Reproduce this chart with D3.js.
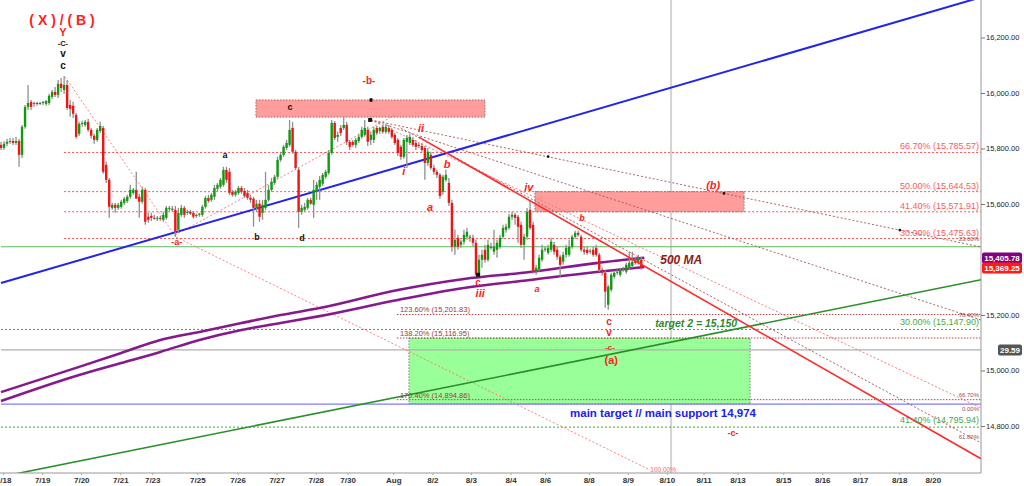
<!DOCTYPE html>
<html><head><meta charset="utf-8">
<script src="https://cdn.jsdelivr.net/npm/d3@7"></script>
<style>body{margin:0;background:#fff;} svg{display:block;font-family:Arial,"Liberation Sans",sans-serif;}</style>
</head><body><svg id="c" width="1024" height="486"></svg>
<script>
// ---------- DATA ----------
// candles: [open, high, low, close]
const candles = [
[15813,15824,15795,15802],[15802,15827,15795,15817],[15817,15835,15809,15824],[15824,15838,15817,15827],[15827,15838,15813,15820],[15820,15842,15813,15827],
[15827,15835,15734,15777],[15777,15885,15766,15878],[15878,15957,15871,15950],[15950,16029,15939,15964],[15968,15975,15939,15950],[15961,15968,15950,15964],
[15964,15968,15954,15961],[15961,15968,15957,15964],[15964,15971,15957,15968],[15961,15975,15954,15971],[15964,15997,15957,15990],[15986,16011,15979,16004],
[16004,16022,15986,15993],[15993,16047,15982,16033],[16033,16054,16004,16018],[16011,16061,15997,16029],[16029,16047,15939,15946],[15957,15975,15914,15943],
[15954,15968,15910,15925],[15921,15928,15835,15842],[15853,15896,15845,15889],[15889,15900,15878,15892],[15885,15903,15878,15896],[15896,15907,15860,15867],
[15867,15874,15835,15846],[15846,15853,15817,15831],[15831,15874,15824,15867],[15863,15896,15856,15881],[15874,15881,15709,15716],[15741,15752,15676,15687],
[15687,15694,15550,15590],[15586,15604,15579,15597],[15597,15604,15568,15586],[15586,15604,15579,15597],[15590,15615,15583,15608],[15604,15626,15597,15619],
[15611,15633,15604,15626],[15626,15669,15619,15651],[15640,15658,15633,15651],[15651,15716,15619,15619],[15626,15637,15550,15608],[15608,15662,15601,15651],
[15651,15658,15525,15536],[15554,15568,15532,15543],[15557,15568,15539,15550],[15550,15561,15543,15547],[15547,15557,15539,15550],[15550,15557,15540,15547],
[15543,15572,15536,15561],[15550,15593,15543,15586],[15583,15593,15575,15586],[15583,15593,15572,15579],[15579,15593,15482,15500],[15507,15586,15496,15568],
[15561,15597,15554,15586],[15586,15593,15550,15561],[15568,15579,15561,15572],[15572,15579,15561,15565],[15568,15575,15547,15554],[15557,15565,15550,15561],
[15561,15568,15554,15565],[15561,15597,15554,15590],[15590,15629,15583,15622],[15622,15633,15604,15611],[15615,15640,15608,15633],[15626,15669,15615,15658],
[15655,15676,15647,15669],[15662,15694,15655,15687],[15669,15734,15662,15723],[15723,15734,15676,15687],[15716,15730,15633,15640],[15644,15651,15626,15633],
[15633,15651,15626,15644],[15640,15665,15633,15658],[15658,15665,15637,15644],[15647,15658,15622,15629],[15640,15651,15615,15622],[15622,15633,15604,15615],
[15619,15626,15518,15586],[15586,15615,15572,15601],[15601,15615,15536,15554],[15568,15615,15543,15597],[15586,15716,15579,15615],[15615,15669,15608,15651],
[15651,15694,15644,15680],[15676,15705,15669,15698],[15698,15770,15691,15759],[15759,15788,15752,15777],[15777,15813,15770,15806],[15802,15831,15795,15820],
[15813,15903,15806,15867],[15874,15896,15781,15788],[15788,15795,15723,15730],[15723,15730,15514,15572],[15572,15597,15561,15586],[15579,15604,15572,15590],
[15586,15622,15579,15615],[15615,15622,15597,15601],[15597,15687,15550,15651],[15644,15680,15615,15669],[15662,15701,15615,15687],[15673,15712,15665,15705],
[15698,15723,15691,15716],[15712,15795,15705,15784],[15784,15903,15777,15892],[15892,15899,15831,15838],[15842,15860,15824,15849],[15874,15885,15845,15856],
[15874,15914,15867,15885],[15885,15896,15813,15824],[15824,15831,15795,15806],[15824,15831,15806,15813],[15813,15838,15802,15831],[15827,15853,15820,15842],
[15842,15878,15835,15867],[15849,15903,15842,15874],[15867,15878,15809,15824],[15831,15860,15813,15849],[15831,15878,15820,15867],[15874,15881,15849,15856],
[15863,15878,15853,15874],[15878,15885,15853,15860],[15860,15889,15853,15878],[15874,15885,15853,15860],[15867,15874,15835,15842],[15849,15856,15813,15820],
[15831,15838,15773,15784],[15806,15813,15759,15770],[15770,15838,15763,15831],[15824,15849,15730,15838],[15820,15853,15813,15842],[15831,15842,15806,15813],
[15820,15831,15795,15806],[15813,15820,15802,15809],[15809,15820,15788,15795],[15802,15809,15687,15748],[15748,15802,15737,15788],[15777,15788,15723,15730],
[15730,15741,15705,15716],[15716,15723,15694,15705],[15705,15712,15619,15629],[15644,15705,15633,15698],[15687,15723,15680,15705],[15676,15694,15593,15604],
[15604,15615,15428,15446],[15446,15507,15417,15471],[15478,15489,15435,15446],[15453,15471,15442,15464],[15464,15507,15453,15489],[15482,15514,15471,15500],
[15478,15489,15464,15482],[15478,15489,15449,15460],[15460,15471,15342,15345],[15345,15417,15338,15399],[15399,15435,15370,15417],[15435,15453,15388,15399],
[15399,15471,15392,15453],[15446,15460,15435,15442],[15428,15507,15417,15446],[15435,15471,15406,15460],[15446,15489,15439,15478],[15482,15525,15475,15514],
[15507,15529,15496,15518],[15514,15565,15507,15554],[15554,15572,15543,15561],[15561,15568,15525,15550],[15554,15561,15460,15518],[15525,15536,15442,15453],
[15453,15493,15399,15482],[15482,15586,15471,15572],[15579,15615,15507,15514],[15525,15536,15349,15356],[15356,15381,15345,15370],[15363,15417,15356,15406],
[15399,15453,15392,15435],[15435,15446,15428,15439],[15424,15453,15417,15442],[15435,15478,15428,15464],[15453,15464,15417,15428],[15435,15446,15399,15410],
[15410,15417,15338,15381],[15392,15428,15381,15417],[15417,15453,15406,15442],[15417,15471,15410,15446],[15446,15489,15439,15482],[15482,15504,15475,15496],
[15496,15504,15482,15489],[15482,15489,15428,15435],[15435,15446,15417,15428],[15435,15446,15417,15424],[15428,15439,15421,15432],[15435,15446,15410,15417],
[15442,15453,15410,15417],[15417,15424,15356,15363],[15363,15370,15342,15352],[15352,15360,15226,15284],[15237,15309,15219,15302],[15291,15352,15284,15345],
[15338,15360,15331,15352],[15352,15363,15345,15356],[15345,15370,15338,15363],[15363,15374,15356,15367],[15356,15388,15349,15381],[15370,15428,15363,15388],
[15377,15428,15370,15392],[15399,15410,15381,15388],[15388,15417,15381,15406],[15399,15410,15363,15369.25]
];
// 500 MA bands: [bar index, price]
const maUpper = [[0,14922],[26,15013],[40,15063],[53,15110],[66,15139],[80,15171],[93,15200],[106,15225],[132,15290],[154,15330],[176,15355],[198,15387],[214,15406]];
const maLower = [[0,14890],[26,14984],[40,15027],[53,15067],[66,15110],[80,15146],[93,15171],[106,15196],[132,15254],[154,15297],[176,15326],[198,15355],[214,15373]];
// x-axis date labels and their bar index
const dateLabels = ["7/18","7/19","7/20","7/21","7/23","7/25","7/26","7/27","7/28","7/30","Aug","8/2","8/3","8/4","8/6","8/8","8/9","8/10","8/11","8/13","8/15","8/16","8/17","8/18","8/20"];
const dateIndex  = [0.7,13.7,26.7,39.7,50.3,65.3,78.7,91.7,104.7,115.3,130.5,143.5,156.3,169.5,181,195.5,208.5,221.5,233.7,245,260.2,273.2,285.8,298.8,310];
const yTicks = [14800,15000,15200,15600,15800,16000,16200];
// Trend lines: [[i1,p1],[i2,p2]]
const blueTrend  = [[0,15315],[326,16345]];
const greenTrend = [[0,14617],[326,15327]];
const redTrend   = [[139,15841],[326,14682]];
const fanLines = [
  [[123,15903],[326,15445]],
  [[123,15903],[326,15182]],
  [[123,15903],[326,14865]],
  [[133,15874],[326,14739]]
];
const lightRedLines = [
  [[21.3,16058],[58.2,15481]],
  [[58.2,15481],[216,14641]],
  [[57.9,15488],[131.1,15921]]
];
// Fibonacci levels
const fibUpper = [15785.57,15644.53,15571.91,15475.63];
const fibUpperText = ["66.70% (15,785.57)","50.00% (15,644.53)","41.40% (15,571.91)","30.00% (15,475.63)"];
const fibLower = [15201.83,15116.95,14894.86];
const fibLowerText = ["123.60% (15,201.83)","138.20% (15,116.95)","170.40% (14,894.86)"];
const fibGreen = [15147.90,14795.94];
const fibGreenText = ["30.00% (15,147.90)","41.40% (14,795.94)"];
const greenLevel = 15446;
const grayLevel = 15074;
const mainSupport = 14879;
const smallPct = [["23.60%",15466],["78.40%",15193],["66.70%",14904],["0.00%",14854],["61.80%",14753]];
// Boxes: [i1,i2,pTop,pBottom]
const boxes = [
  {r:[84.8,161,15975,15913], fill:"#ff9c9c"},
  {r:[177.6,247.2,15644.53,15571.91], fill:"#ff9c9c"},
  {r:[135.7,249.2,15116.95,14880], fill:"#99ff99"}
];
// Annotations: text, bar index, price, colour, size, weight, style, anchor
const notes = [
  ["( X ) / ( B )",20.3,16245,"#ff2020",14,"bold","normal","middle"],
  ["Y",20.6,16205,"#ff2020",11,"bold","normal","middle"],
  ["-C-",20.6,16170,"#111",7.5,"bold","normal","middle"],
  ["v",20.6,16130,"#111",10,"bold","normal","middle"],
  ["c",20.6,16086,"#111",10,"bold","normal","middle"],
  ["-b-",122.4,16032,"#ff2020",10,"bold","normal","middle"],
  ["e",123.1,15968,"#111",7,"bold","normal","middle"],
  ["c",96.1,15939,"#111",9,"bold","normal","middle"],
  ["a",74.5,15766,"#111",9,"bold","normal","middle"],
  ["b",85.2,15470,"#111",9,"bold","normal","middle"],
  ["d",100.1,15466,"#111",9,"bold","normal","middle"],
  ["-a-",58.5,15452,"#ff2020",9,"bold","normal","middle"],
  ["ii",139.7,15859,"#ff2020",11,"bold","italic","middle"],
  ["i",134,15704,"#ff2020",11,"bold","italic","middle"],
  ["b",148.4,15730,"#ff2020",11,"bold","italic","middle"],
  ["a",142.7,15575,"#ff2020",11,"bold","italic","middle"],
  ["iv",175.6,15647,"#ff2020",11,"bold","italic","middle"],
  ["b",193.3,15539,"#ff2020",9,"bold","italic","middle"],
  ["c",158.7,15304,"#ff2020",10,"bold","normal","middle"],
  ["iii",159.4,15265,"#ff2020",11,"bold","italic","middle"],
  ["a",178.3,15283,"#ff2020",9,"bold","italic","middle"],
  ["c",202.3,15164,"#ff2020",10,"bold","normal","middle"],
  ["v",202.3,15124,"#ff2020",10,"bold","normal","middle"],
  ["-c-",202.6,15074,"#ff2020",8,"bold","normal","middle"],
  ["(a)",203,15023,"#ff2020",11,"bold","normal","middle"],
  ["(b)",236.9,15654,"#ff2020",11,"bold","italic","middle"],
  ["500 MA",219.3,15384,"#8b1c1c",12,"bold","italic","start"],
  ["target 2 = 15,150",217.6,15157,"#2f8a2f",10.5,"bold","italic","start"],
  ["main target // main support 14,974",189.3,14832,"#1a1aff",11.5,"bold","normal","start"],
  ["-c-",243.5,14764,"#ff2020",9,"bold","normal","middle"],
  ["100.00%",216,14634,"#ff6666",6.5,"normal","normal","start"]
];
const dots = [[123.1,15975],[182,15771],[240.5,15638],[299,15506]];
const squares = [[122.8,15903],[158.7,15345]];
const tags = [["15,405.78",15405.78,"#800080",982],["15,369.25",15369.25,"#ff1a1a",982],["29.59",15074,"#555555",998]];

// ---------- SCALES ----------
const svg = d3.select("#c");
const right = 981, bottom = 473;
const x = d3.scaleLinear().domain([0,326]).range([1,right]);
const y = d3.scaleLinear().domain([14630.6,16335.1]).range([bottom,0]);
const g = svg.append("g");
svg.append("defs").append("clipPath").attr("id","pc").append("rect").attr("x",0).attr("y",0).attr("width",right).attr("height",bottom);
const plot = g.append("g").attr("clip-path","url(#pc)");

// vertical "now" line
plot.append("line").attr("x1",x(222.9)).attr("x2",x(222.9)).attr("y1",0).attr("y2",bottom).attr("stroke","#d4d4d4").attr("stroke-width",2);

// boxes
boxes.forEach(b=>{
  plot.append("rect").attr("x",x(b.r[0])).attr("width",x(b.r[1])-x(b.r[0]))
    .attr("y",y(b.r[2])).attr("height",y(b.r[3])-y(b.r[2]))
    .attr("fill",b.fill).attr("stroke","#666").attr("stroke-width",0.8).attr("stroke-dasharray","1.5,1.5");
});

// horizontal levels
function hline(p, i0, color, dash, w){
  plot.append("line").attr("x1",x(i0)).attr("x2",right).attr("y1",y(p)).attr("y2",y(p))
   .attr("stroke",color).attr("stroke-width",w||1).attr("stroke-dasharray",dash||null);
}
hline(greenLevel,0,"#5cb85c",null,1.2);
hline(grayLevel,0,"#b0b0b0",null,1.2);
hline(mainSupport,0,"#7b7bff",null,1.2);
fibUpper.forEach(p=>hline(p,21,"#ff5050","2,2",1));
fibLower.forEach(p=>hline(p,131.7,"#b04848","1.5,1.5",1));
fibGreen.forEach(p=>hline(p,0,"#3aa83a","2,2",1));

// diagonal lines
const ln = d3.line().x(d=>x(d[0])).y(d=>y(d[1]));
lightRedLines.forEach(l=>plot.append("path").attr("d",ln(l)).attr("fill","none").attr("stroke","#ff7070").attr("stroke-width",0.9).attr("stroke-dasharray","2,2"));
fanLines.forEach((l,k)=>plot.append("path").attr("d",ln(l)).attr("fill","none").attr("stroke",k==2?"#ff6a6a":"#a85050").attr("stroke-width",0.9).attr("stroke-dasharray","2,2"));
plot.append("path").attr("d",ln(blueTrend)).attr("fill","none").attr("stroke","#2323ee").attr("stroke-width",2);
plot.append("path").attr("d",ln(greenTrend)).attr("fill","none").attr("stroke","#2a8f2a").attr("stroke-width",1.6);

// MA bands
const ma = d3.line().x(d=>x(d[0])).y(d=>y(d[1])).curve(d3.curveMonotoneX);
[maUpper,maLower].forEach(s=>plot.append("path").attr("d",ma(s)).attr("fill","none").attr("stroke","#861a8c").attr("stroke-width",2.6));

// candles
const cg = plot.append("g");
candles.forEach((c,i)=>{
  const cx = x(i);
  cg.append("line").attr("x1",cx).attr("x2",cx).attr("y1",y(c[1])).attr("y2",y(c[2])).attr("stroke","#8f8f8f").attr("stroke-width",1.3);
  const up = c[3]>=c[0];
  const t = y(Math.max(c[0],c[3])), b = y(Math.min(c[0],c[3]));
  cg.append("rect").attr("x",cx-1.2).attr("width",2.4).attr("y",t).attr("height",Math.max(1,b-t))
    .attr("fill",up?"#109a10":"#f01414");
});

// red downtrend on top
plot.append("path").attr("d",ln(redTrend)).attr("fill","none").attr("stroke","#ff2a2a").attr("stroke-width",1.6);

// dots / squares
dots.forEach(d=>plot.append("circle").attr("cx",x(d[0])).attr("cy",y(d[1])).attr("r",1.4).attr("fill","#111"));
squares.forEach(d=>plot.append("rect").attr("x",x(d[0])-2).attr("y",y(d[1])-2).attr("width",4).attr("height",4).attr("fill","#111"));

// fib labels
fibUpper.forEach((p,k)=>plot.append("text").attr("x",right-2).attr("y",y(p)-3).attr("text-anchor","end").attr("font-size",9).attr("fill","#ff5a5a").text(fibUpperText[k]));
fibGreen.forEach((p,k)=>plot.append("text").attr("x",right-2).attr("y",y(p)-4).attr("text-anchor","end").attr("font-size",9).attr("fill","#48a848").text(fibGreenText[k]));
fibLower.forEach((p,k)=>plot.append("text").attr("x",x(132.7)).attr("y",y(p)-2).attr("font-size",7.5).attr("fill","#9a3a3a").text(fibLowerText[k]));
smallPct.forEach(s=>plot.append("text").attr("x",right-2).attr("y",y(s[1])).attr("text-anchor","end").attr("font-size",6).attr("fill","#9a5050").text(s[0]));

// annotations
notes.forEach(n=>plot.append("text").attr("x",x(n[1])).attr("y",y(n[2])).attr("fill",n[3]).attr("font-size",n[4])
  .attr("font-weight",n[5]).attr("font-style",n[6]).attr("text-anchor",n[7]).text(n[0]));

// axes
g.append("line").attr("x1",0).attr("x2",right).attr("y1",bottom).attr("y2",bottom).attr("stroke","#999");
g.append("line").attr("x1",right).attr("x2",right).attr("y1",0).attr("y2",bottom).attr("stroke","#999");
const xa = g.append("g").attr("transform",`translate(0,${bottom})`)
  .call(d3.axisBottom(x).tickValues(dateIndex).tickFormat((d,k)=>dateLabels[k]).tickSize(2));
xa.select(".domain").remove();
xa.selectAll("line").attr("stroke","#aaa");
xa.selectAll("text").attr("font-size",8).attr("font-weight","bold").attr("fill","#333").attr("y",4).attr("dy","0.71em").attr("font-family","Arial, 'Liberation Sans', sans-serif");
const ya = g.append("g").attr("transform",`translate(${right},0)`)
  .call(d3.axisRight(y).tickValues(yTicks).tickFormat(d3.format(",.2f")).tickSize(4));
ya.select(".domain").remove();
ya.selectAll("line").attr("stroke","#777");
ya.selectAll("text").attr("font-size",7.5).attr("fill","#222").attr("x",5).attr("font-family","Arial, 'Liberation Sans', sans-serif");

// price tags
tags.forEach(t=>{
  const yy = y(t[1]);
  g.append("rect").attr("x",t[3]).attr("y",yy-5.5).attr("width",1022-t[3]).attr("height",11).attr("rx",2).attr("fill",t[2]);
  g.append("text").attr("x",(t[3]+1022)/2).attr("y",yy+3).attr("text-anchor","middle").attr("font-size",8).attr("font-weight","bold").attr("fill","#fff").text(t[0]);
});
</script></body></html>
